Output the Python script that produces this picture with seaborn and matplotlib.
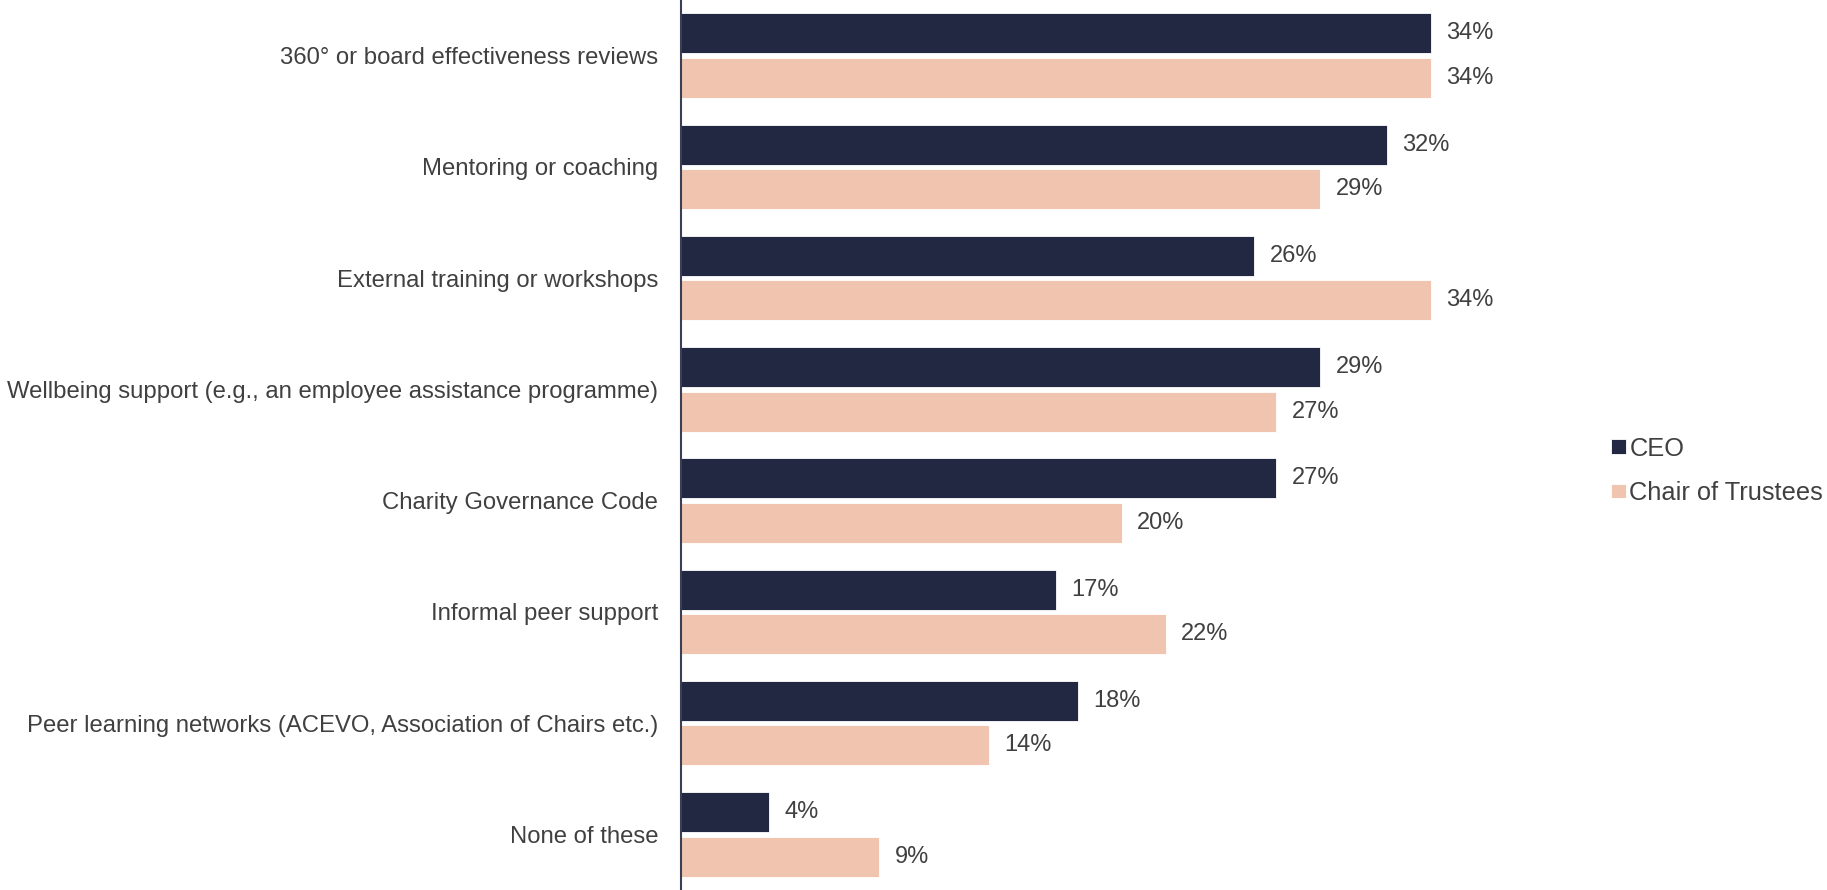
import matplotlib
matplotlib.use("Agg")
import matplotlib.pyplot as plt
import seaborn as sns
import pandas as pd

categories = [
    "360° or board effectiveness reviews",
    "Mentoring or coaching",
    "External training or workshops",
    "Wellbeing support (e.g., an employee assistance programme)",
    "Charity Governance Code",
    "Informal peer support",
    "Peer learning networks (ACEVO, Association of Chairs etc.)",
    "None of these",
]
ceo = [34, 32, 26, 29, 27, 17, 18, 4]
chair = [34, 29, 34, 27, 20, 22, 14, 9]
series_names = ["CEO", "Chair of Trustees"]
colors = ["#232842", "#F0C4AE"]

df = pd.DataFrame({
    "category": categories * 2,
    "value": ceo + chair,
    "role": [series_names[0]] * len(categories) + [series_names[1]] * len(categories),
})

sns.set_theme(style="white")
plt.rcParams["font.family"] = ["Liberation Sans", "DejaVu Sans"]

fig = plt.figure(figsize=(18.27, 8.90), dpi=100)
ax = fig.add_axes([0.3725, 0.0, 0.483, 1.0])

sns.barplot(
    data=df, y="category", x="value", hue="role", orient="h",
    palette=colors, saturation=1, order=categories, hue_order=series_names,
    width=0.8, gap=0.1, edgecolor="white", linewidth=0.6, ax=ax,
)

text_color = "#404040"
for cont in ax.containers:
    ax.bar_label(cont, fmt="%d%%", padding=11, fontsize=17, color=text_color)

ax.set_xlim(0, 40)
ax.set_xlabel("")
ax.set_ylabel("")
ax.set_xticks([])
ax.tick_params(axis="y", length=0, pad=16, labelsize=17.2, labelcolor=text_color)

for side in ["top", "right", "bottom"]:
    ax.spines[side].set_visible(False)
ax.spines["left"].set_color("#3a3f55")
ax.spines["left"].set_linewidth(1.5)

ax.legend(
    loc="center left", bbox_to_anchor=(0.8697, 0.471),
    bbox_transform=fig.transFigure, frameon=False,
    fontsize=18.3, handlelength=0.62, handleheight=0.5,
    handletextpad=0.12, labelspacing=0.8, borderpad=0.35,
    labelcolor=text_color,
)

fig.savefig("out.png", dpi=100)
